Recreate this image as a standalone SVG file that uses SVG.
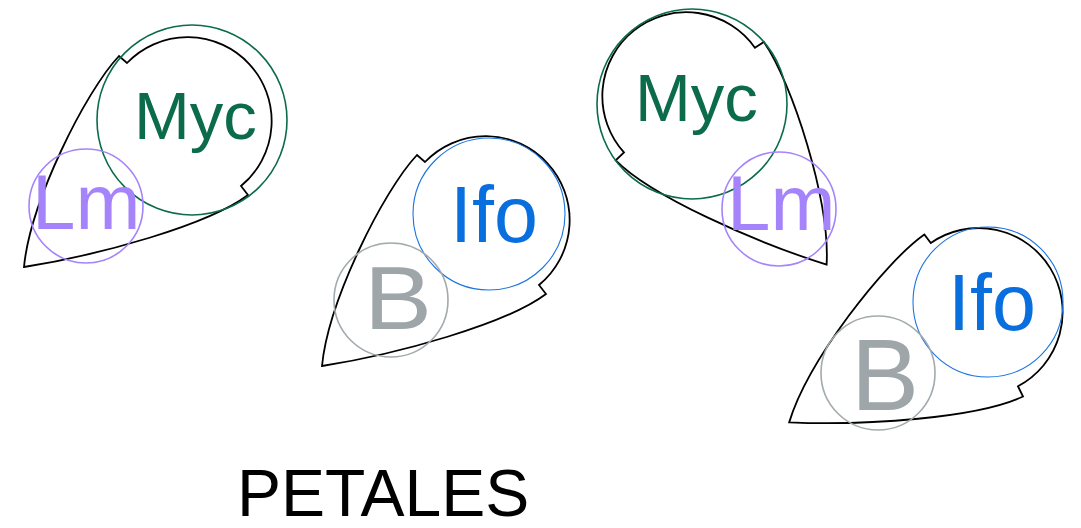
<svg xmlns="http://www.w3.org/2000/svg" width="1081" height="528" viewBox="0 0 1081 528">
<style>
.petal{fill:none;stroke:#000;stroke-width:1.8;stroke-linejoin:miter}
.t{font-family:"Liberation Sans",Arial,sans-serif}
.myc{fill:#0b6b4b;font-size:67px}
.lm{fill:#a584fb;font-size:78px}
.ifo{fill:#0a6fde;font-size:79px}
.b{fill:#9ea6a9;font-size:102px}
.cg{fill:none;stroke:#0b6b4b;stroke-width:1.6}
.cp{fill:none;stroke:#a584fb;stroke-width:1.6}
.cb{fill:none;stroke:#1a74e0;stroke-width:1.1}
.cy{fill:none;stroke:#a3aaad;stroke-width:1.6}
</style>
<defs>
<path id="petalShape" d="M -164,146 C -158,82 -103,-29 -69,-65 L -61,-58 A 84 84 0 1 1 53,65 L 60,74 C 20,104 -88,134 -164,146 Z"/>
</defs>
<g id="petal1">
<use href="#petalShape" class="petal" transform="translate(188,121)"/>
<circle class="cg" cx="192" cy="120" r="95"/>
<text class="t myc" x="134" y="139">Myc</text>
<circle class="cp" cx="86" cy="206" r="57"/>
<text class="t lm" x="32" y="229">Lm</text>
</g>
<g id="petal2">
<use href="#petalShape" class="petal" transform="translate(486,220)"/>
<circle class="cb" cx="489" cy="214" r="76"/>
<text class="t ifo" x="450" y="242">Ifo</text>
<circle class="cy" cx="391" cy="300" r="57"/>
<text class="t b" text-anchor="middle" transform="translate(398,329) scale(1,0.87)">B</text>
</g>
<g id="petal3">
<use href="#petalShape" class="petal" transform="translate(686,96) rotate(8.5) scale(-1,1)"/>
<circle class="cg" cx="692" cy="104" r="95"/>
<text class="t myc" x="635" y="121">Myc</text>
<circle class="cp" cx="779" cy="209" r="57"/>
<text class="t lm" x="727" y="230">Lm</text>
</g>
<g id="petal4">
<use href="#petalShape" class="petal" transform="translate(979,312) rotate(11.5)"/>
<circle class="cb" cx="988" cy="302" r="75"/>
<text class="t ifo" x="948" y="330">Ifo</text>
<circle class="cy" cx="878" cy="373" r="57"/>
<text class="t b" text-anchor="middle" x="885" y="410">B</text>
</g>
<g id="connectors"></g>
<g id="title">
<text class="t" x="237" y="516" font-size="66" fill="#000">PETALES</text>
</g>
</svg>
